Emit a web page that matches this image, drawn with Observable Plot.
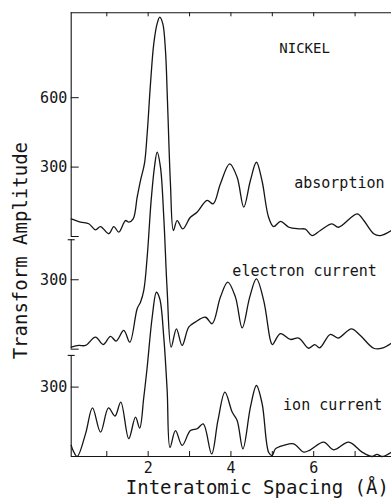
<!DOCTYPE html>
<html><head><meta charset="utf-8">
<script src="https://cdn.jsdelivr.net/npm/d3@7"></script>
<script src="https://cdn.jsdelivr.net/npm/@observablehq/plot@0.6"></script>
<style>body{margin:0;background:#fff}</style>
</head><body><div id="chart"></div>
<script>
// Interatomic spacing (Å) and transform amplitude for each spectrum
const absX = [0.14,0.365,0.565,0.727,0.848,1.048,1.169,1.29,1.452,1.531,1.638,1.734,1.814,1.911,1.976,2.056,2.135,2.217,2.28,2.353,2.418,2.466,2.538,2.61,2.70,2.836,3.02,3.18,3.425,3.57,3.746,3.97,4.15,4.31,4.47,4.616,4.75,4.91,5.03,5.2,5.40,5.64,5.80,5.96,6.16,6.44,6.60,7.05,7.21,7.45,7.61,7.88];
const absV = [76,62,55,29,43,12,43,19,69,62,76,170,242,316,445,661,833,920,948,920,804,588,229,26,69,33,83,105,156,141,228,314,256,127,242,321,242,83,43,65,40,33,32,4,26,55,40,98,69,12,4,26];

const elecX = [0.14,0.324,0.486,0.727,0.913,1.089,1.227,1.41,1.556,1.734,1.814,1.894,1.976,2.072,2.152,2.217,2.297,2.377,2.459,2.556,2.683,2.821,2.98,3.14,3.384,3.546,3.746,3.923,4.109,4.271,4.454,4.616,4.792,4.954,5.0,5.196,5.437,5.638,5.879,6.024,6.145,6.403,6.589,6.911,7.128,7.449,7.652,7.88];
const elecV = [9,16,16,52,20,55,35,81,30,175,203,254,398,643,787,852,787,571,254,9,88,16,95,117,138,110,225,290,225,92,225,304,210,38,20,67,42,48,4,20,6,64,48,88,59,4,4,26];

const ionX = [0.14,0.195,0.285,0.486,0.655,0.848,1.041,1.198,1.338,1.531,1.693,1.795,1.894,1.976,2.097,2.2,2.28,2.377,2.459,2.527,2.66,2.821,3.02,3.184,3.33,3.534,3.686,3.855,4.03,4.15,4.29,4.471,4.616,4.754,4.913,4.995,5.075,5.275,5.517,5.758,5.92,6.24,6.483,6.845,7.169,7.41,7.53,7.65,7.88];
const ionV = [48,22,0,98,210,105,210,175,235,77,170,123,256,386,602,710,682,516,285,39,112,48,112,120,141,11,156,278,192,156,33,213,307,228,17,4,33,48,55,19,29,62,29,62,19,0,9,0,19];

const seriesNames = ["absorption", "electron current", "ion current"];
const yTickValues = [300, 300, 300, 600];
const yTickSeries = ["ion current", "electron current", "absorption", "absorption"];
const xTickLabels = [2, 4, 6];
const xMinorTicks = [1, 2, 3, 4, 5, 6, 7];
const title = "NICKEL";

// layout: vertical stacking of the three panels (in amplitude units)
const offset = {"ion current": 0, "electron current": 464, "absorption": 951};
const yTop = 1918;
const xDomain = [0.14, 7.88];
const W = 391, H = 498, ML = 70.7, MR = 0, MT = 12.3, MB = 42;
const plotW = W - ML - MR, plotH = H - MT - MB;

const rows = [];
[[absX, absV, "absorption"], [elecX, elecV, "electron current"], [ionX, ionV, "ion current"]].forEach(([xs, vs, s]) => {
  xs.forEach((x, i) => rows.push({x, y: vs[i] + offset[s], series: s}));
});

const yTicks = yTickValues.map((v, i) => ({y: v + offset[yTickSeries[i]], label: String(v)}));
const labelOf = new Map(yTicks.map(d => [d.y, d.label]));
const zeroTicks = [offset["absorption"], offset["electron current"]];

// broken left axis segments and their break serifs
const axisSegs = [
  {y1: offset["ion current"], y2: 437},
  {y1: offset["electron current"], y2: 937},
  {y1: offset["absorption"], y2: yTop}
];
const serifs = [437, 937];
const serifSymbol = {draw(ctx) { ctx.moveTo(-3.5, 0); ctx.lineTo(3.5, 0); }};

const annotations = [
  {text: title, x: 5.78, y: 1764, size: 14},
  {text: "absorption", x: 6.62, y: 1180, size: 15},
  {text: "electron current", x: 5.78, y: 800, size: 15},
  {text: "ion current", x: 6.46, y: 220, size: 15}
];

const ink = "#151515";
const chart = Plot.plot({
  width: W, height: H,
  marginLeft: ML, marginRight: MR, marginTop: MT, marginBottom: MB,
  x: {domain: xDomain},
  y: {domain: [0, yTop]},
  style: {fontFamily: "DejaVu Sans Mono", fontSize: "15px", color: ink, background: "#fff"},
  marks: [
    Plot.ruleY([yTop], {stroke: ink, strokeWidth: 1.1}),
    Plot.ruleY([0], {stroke: ink, strokeWidth: 1.1}),
    Plot.ruleX(axisSegs, {x: () => xDomain[0], y1: "y1", y2: "y2", stroke: ink, strokeWidth: 1.1}),
    Plot.dot(serifs, {x: () => xDomain[0], y: d => d, symbol: serifSymbol, fill: "none", stroke: ink, strokeWidth: 1.1}),
    // inward ticks
    Plot.tickX(xMinorTicks, {x: d => d, insetTop: plotH - 5, stroke: ink}),
    Plot.tickX(xMinorTicks, {x: d => d, insetBottom: plotH - 4, stroke: ink}),
    Plot.tickY([...yTicks.map(d => d.y), ...zeroTicks], {y: d => d, insetRight: plotW - 8, stroke: ink}),
    // tick labels
    Plot.axisX({anchor: "bottom", ticks: xTickLabels, tickSize: 0, tickPadding: 6, fontSize: 15, label: null}),
    Plot.axisY({anchor: "left", ticks: yTicks.map(d => d.y), tickSize: 0, tickPadding: 4, tickFormat: d => labelOf.get(d), fontSize: 15, label: null}),
    Plot.line(rows, {x: "x", y: "y", z: "series", curve: "catmull-rom", stroke: ink, strokeWidth: 1.3}),
    Plot.text(annotations, {x: "x", y: "y", text: "text", fontSize: d => d.size, fill: ink}),
    Plot.text(["Interatomic Spacing (Å)"], {frameAnchor: "bottom", textAnchor: "middle", lineAnchor: "middle", dx: 26, dy: 31, fontSize: 19, fill: ink}),
    Plot.text(["Transform Amplitude"], {frameAnchor: "left", textAnchor: "middle", lineAnchor: "middle", rotate: -90, dx: -50.7, dy: 16, fontSize: 19, fill: ink})
  ]
});
document.getElementById("chart").appendChild(chart);
</script>
</body></html>
